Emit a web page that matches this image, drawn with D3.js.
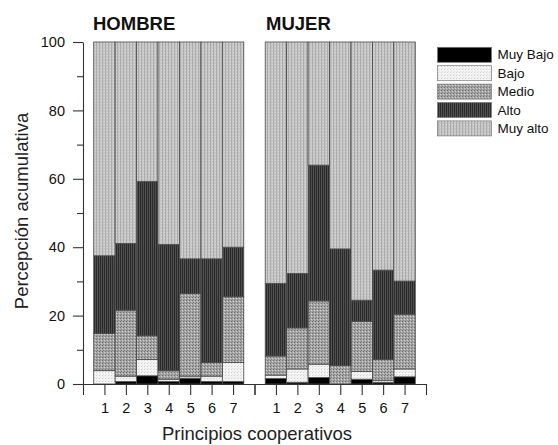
<!DOCTYPE html>
<html>
<head>
<meta charset="utf-8">
<script src="https://cdn.jsdelivr.net/npm/d3@7"></script>
<style>
  html, body { margin: 0; padding: 0; background: #fff; }
  svg { display: block; font-family: "Liberation Sans", Arial, sans-serif; }
</style>
</head>
<body>
<svg id="chart" width="558" height="445"></svg>
<script>
// ---- Data ----
const categories = ["1", "2", "3", "4", "5", "6", "7"];
const levels = ["Muy Bajo", "Bajo", "Medio", "Alto", "Muy alto"];
const panels = ["HOMBRE", "MUJER"];
const yTicks = [0, 20, 40, 60, 80, 100];

// HOMBRE (segment percentages, bottom to top)
const hombreMuyBajo = [0.0, 0.7, 2.4, 0.7, 1.7, 0.7, 0.7];
const hombreBajo    = [3.9, 1.6, 4.8, 0.7, 0.6, 1.6, 5.6];
const hombreMedio   = [10.9, 19.3, 6.9, 2.5, 24.2, 4.0, 19.2];
const hombreAlto    = [22.7, 19.5, 45.1, 36.9, 10.1, 30.3, 14.5];
const hombreMuyAlto = [62.5, 58.9, 40.8, 59.2, 63.4, 63.4, 60.0];

// MUJER
const mujerMuyBajo = [1.6, 0.5, 1.9, 0.0, 1.4, 0.5, 2.1];
const mujerBajo    = [1.0, 3.9, 3.9, 0.0, 2.3, 0.6, 2.3];
const mujerMedio   = [5.6, 12.0, 18.5, 5.4, 14.6, 6.1, 16.0];
const mujerAlto    = [21.2, 15.9, 39.7, 34.1, 6.2, 26.1, 9.7];
const mujerMuyAlto = [70.6, 67.7, 36.0, 60.5, 75.5, 66.7, 69.9];

const panelSeries = [
  [hombreMuyBajo, hombreBajo, hombreMedio, hombreAlto, hombreMuyAlto],
  [mujerMuyBajo, mujerBajo, mujerMedio, mujerAlto, mujerMuyAlto]
];

// ---- Setup ----
const svg = d3.select("#chart");
const defs = svg.append("defs");

function makePattern(id, w, h, base, marks) {
  const p = defs.append("pattern").attr("id", id)
    .attr("patternUnits", "userSpaceOnUse").attr("width", w).attr("height", h);
  p.append("rect").attr("width", w).attr("height", h).attr("fill", base);
  marks.forEach(m => p.append("rect").attr("x", m[0]).attr("y", m[1])
    .attr("width", m[2]).attr("height", m[3]).attr("fill", m[4]));
}
makePattern("pMuyBajo", 2, 2, "#000", []);
makePattern("pBajo", 3, 3, "#f4f4f4", [[0, 0, 1, 1, "#cfcfcf"], [1, 2, 1, 1, "#e0e0e0"]]);
makePattern("pMedio", 3, 3, "#a4a4a4", [[0, 0, 1, 1, "#6e6e6e"], [2, 1, 1, 1, "#d2d2d2"], [1, 2, 1, 1, "#888"]]);
makePattern("pAlto", 2, 2, "#2c2c2c", [[1, 0, 1, 2, "#4e4e4e"]]);
makePattern("pMuyAlto", 3, 3, "#c6c6c6", [[0, 0, 1, 3, "#acacac"], [2, 1, 1, 1, "#d8d8d8"]]);
const fills = ["url(#pMuyBajo)", "url(#pBajo)", "url(#pMedio)", "url(#pAlto)", "url(#pMuyAlto)"];

const y = d3.scaleLinear().domain([0, 100]).range([384, 42]);
const xScales = [
  d3.scaleLinear().domain([0, 8]).range([83, 254.5]),
  d3.scaleLinear().domain([0, 8]).range([254.5, 426])
];
const titleX = [93, 266];

panels.forEach((name, pi) => {
  const x = xScales[pi];
  const bw = x(1) - x(0);
  const series = panelSeries[pi];
  const rows = categories.map((c, i) => {
    const r = { cat: +c };
    levels.forEach((l, li) => r[l] = series[li][i]);
    return r;
  });
  const stacked = d3.stack().keys(levels)(rows);
  const g = svg.append("g");
  stacked.forEach((layer, li) => {
    g.selectAll(null).data(layer).enter().append("rect")
      .attr("x", d => x(d.data.cat) - bw / 2)
      .attr("width", bw)
      .attr("y", d => y(d[1]))
      .attr("height", d => Math.max(0, y(d[0]) - y(d[1])))
      .attr("fill", fills[li])
      .attr("stroke", "#4a4a4a")
      .attr("stroke-width", 0.8);
  });

  // x axis
  const ax = svg.append("g").attr("transform", "translate(0,384)")
    .call(d3.axisBottom(x).tickValues(d3.range(0, 9)).tickSize(11).tickSizeOuter(0).tickPadding(8)
      .tickFormat(d => (d >= 1 && d <= 7) ? categories[d - 1] : ""));
  ax.selectAll("path, line").attr("stroke", "#333").attr("stroke-width", 1.1);
  ax.selectAll("text").attr("font-size", 14.5).attr("fill", "#111")
    .attr("font-family", "'Liberation Sans', Arial, sans-serif");

  svg.append("text").attr("x", titleX[pi]).attr("y", 30)
    .attr("font-size", 18.5).attr("font-weight", "bold").attr("fill", "#111")
    .text(name);
});

// y axis
const ay = svg.append("g").attr("transform", "translate(83,0)")
  .call(d3.axisLeft(y).tickValues(yTicks).tickSize(10).tickSizeOuter(0).tickPadding(8));
ay.selectAll("path, line").attr("stroke", "#333").attr("stroke-width", 1.1);
ay.selectAll("text").attr("font-size", 14.5).attr("fill", "#111")
  .attr("font-family", "'Liberation Sans', Arial, sans-serif");
const aym = svg.append("g").attr("transform", "translate(83,0)")
  .call(d3.axisLeft(y).tickValues([10, 30, 50, 70, 90]).tickSize(6).tickFormat(""));
aym.select("path").remove();
aym.selectAll("line").attr("stroke", "#333").attr("stroke-width", 1.1);

// axis titles
svg.append("text").attr("x", 257).attr("y", 440).attr("text-anchor", "middle")
  .attr("font-size", 18.5).attr("fill", "#222").text("Principios cooperativos");
svg.append("text").attr("transform", "translate(28,211) rotate(-90)").attr("text-anchor", "middle")
  .attr("font-size", 18.5).attr("fill", "#222").text("Percepción acumulativa");

// legend
const lg = svg.append("g");
levels.forEach((l, i) => {
  const yy = 47.3 + i * 18.4;
  lg.append("rect").attr("x", 437.5).attr("y", yy).attr("width", 54).attr("height", 15)
    .attr("fill", fills[i]).attr("stroke", "#777").attr("stroke-width", 0.7);
  lg.append("text").attr("x", 497.5).attr("y", yy + 12).attr("font-size", 13.5)
    .attr("fill", "#111").text(l);
});
</script>
</body>
</html>
